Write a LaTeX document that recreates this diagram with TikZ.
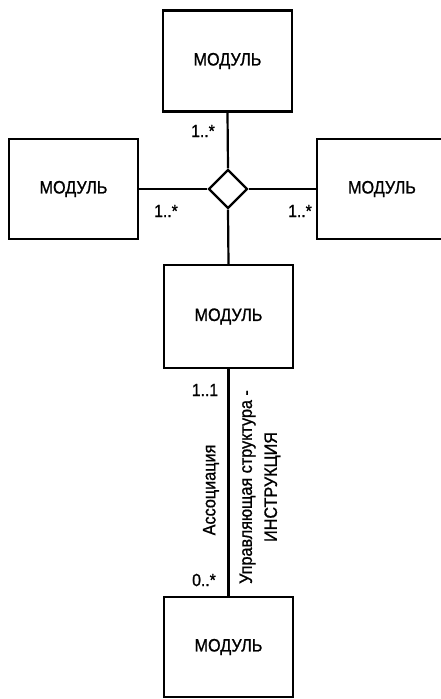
\documentclass[tikz,border=0pt]{standalone}
\usepackage{fontspec}
\setmainfont[FakeStretch=0.9,FakeBold=1.0]{Liberation Sans}
\usetikzlibrary{shapes.geometric}
\tikzset{
  modbox/.style={draw, line width=2.2pt, minimum width=129pt, minimum height=101pt, inner sep=0pt,
    font=\fontsize{18}{21}\selectfont},
  assoc/.style={draw, diamond, line width=2.2pt, minimum width=39pt, minimum height=39pt, inner sep=0pt, aspect=1},
  conn/.style={line width=2.2pt},
  mult/.style={font=\fontsize{17.5}{20}\selectfont, inner sep=0pt},
  rotlabel/.style={font=\fontsize{18}{25}\selectfont, rotate=90, inner sep=0pt, align=center}
}
\begin{document}
\begin{tikzpicture}[x=1pt,y=-1pt]
\useasboundingbox (0,0) rectangle (441,699);
\clip (0,0) rectangle (441,699);
\node[modbox] (top) at (227.5,61) {МОДУЛЬ};
\node[modbox, minimum height=100pt] (left) at (73.5,189) {МОДУЛЬ};
\node[modbox, minimum width=130pt, minimum height=100pt] (right) at (382,189) {МОДУЛЬ};
\node[assoc] (dia) at (228,189) {};
\node[modbox, minimum height=103pt] (mid) at (228.5,316.5) {МОДУЛЬ};
\node[modbox, minimum height=100pt] (bot) at (228.5,647) {МОДУЛЬ};
\draw[conn] (top.south) -- (dia.north);
\draw[conn] (left.east) -- (dia.west);
\draw[conn] (dia.east) -- (right.west);
\draw[conn] (dia.south) -- (mid.north);
\draw[conn] (mid.south) -- (bot.north);
\node[mult] (m1) at (203,131) {1..*};
\node[mult] (m2) at (166,211) {1..*};
\node[mult] (m3) at (300,211) {1..*};
\node[mult] (m4) at (205,390) {1..1};
\node[mult] (m5) at (204,580) {0..*};
\node[rotlabel] (l1) at (211,490) {Ассоциация};
\node[rotlabel] (l2) at (260,487) {Управляющая структура -\\ИНСТРУКЦИЯ};
\end{tikzpicture}
\end{document}
